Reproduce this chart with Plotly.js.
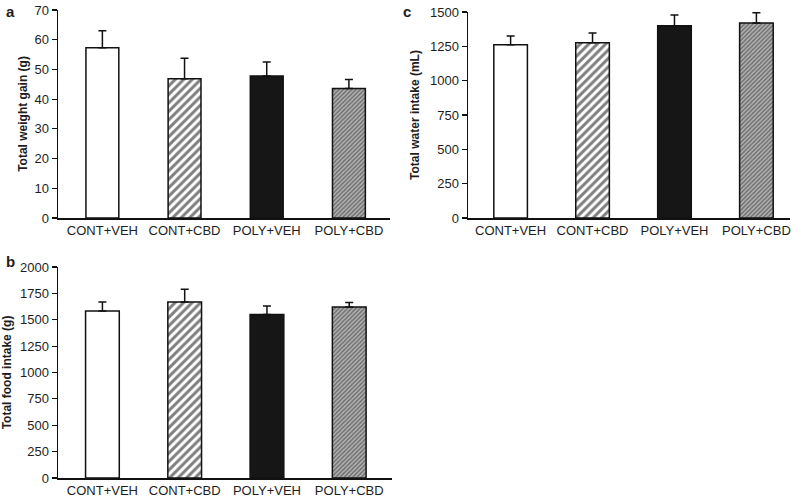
<!DOCTYPE html>
<html>
<head>
<meta charset="utf-8">
<script src="https://cdn.plot.ly/plotly-3.0.1.min.js"></script>
<style>html,body{margin:0;padding:0;background:#fff;}#chart{width:798px;height:503px;}</style>
</head>
<body>
<div id="chart"></div>
<script>
const categories = ['CONT+VEH', 'CONT+CBD', 'POLY+VEH', 'POLY+CBD'];
const weightGain = [57.3, 46.9, 47.8, 43.6];
const weightGainErr = [5.7, 6.9, 4.7, 3.0];
const foodIntake = [1584, 1669, 1550, 1622];
const foodIntakeErr = [85, 120, 81, 41];
const waterIntake = [1262, 1277, 1400, 1420];
const waterIntakeErr = [63, 70, 78, 75];

const weightTicks = [0, 10, 20, 30, 40, 50, 60, 70];
const foodTicks = [0, 250, 500, 750, 1000, 1250, 1500, 1750, 2000];
const waterTicks = [0, 250, 500, 750, 1000, 1250, 1500];

const FONT = 'Liberation Sans, Arial, sans-serif';
const TXT = '#1e1e1e';

// fill style per group
const groupStyles = [
  {color: '#ffffff', pattern: {shape: ''}},
  {color: '#ffffff', pattern: {shape: '/', size: 6, solidity: 0.5, fgcolor: '#000000', bgcolor: '#ffffff', fillmode: 'overlay'}},
  {color: '#161616', pattern: {shape: ''}},
  {color: '#b4b4b4', pattern: {shape: '/', size: 3, solidity: 0.5, fgcolor: '#2a2a2a', bgcolor: '#b4b4b4', fillmode: 'overlay'}}
];

function barTraces(values, errs, xa, ya, width) {
  return categories.map((cat, i) => ({
    type: 'bar',
    x: [cat],
    y: [values[i]],
    xaxis: xa,
    yaxis: ya,
    width: width,
    showlegend: false,
    marker: {
      color: groupStyles[i].color,
      line: {color: '#111', width: 1.5},
      pattern: groupStyles[i].pattern
    },
    error_y: {
      type: 'data',
      symmetric: false,
      array: [errs[i]],
      arrayminus: [0],
      color: '#111',
      thickness: 1.5,
      width: 4
    }
  }));
}

const data = [].concat(
  barTraces(weightGain, weightGainErr, 'x', 'y', 0.40),
  barTraces(foodIntake, foodIntakeErr, 'x2', 'y2', 0.41),
  barTraces(waterIntake, waterIntakeErr, 'x3', 'y3', 0.41)
);

function xAxis(domain, range, anchor) {
  return {
    domain: domain, range: range, anchor: anchor,
    type: 'category', categoryorder: 'array', categoryarray: categories,
    showline: true, linecolor: '#111', linewidth: 1.5,
    ticks: '', showgrid: false, zeroline: false,
    tickfont: {family: FONT, size: 13, color: TXT},
    fixedrange: true
  };
}
function yAxis(domain, range, ticks, anchor, title, standoff) {
  return {
    domain: domain, range: range, anchor: anchor,
    tickvals: ticks, ticktext: ticks.map(String),
    showline: true, linecolor: '#111', linewidth: 1.5,
    ticks: 'outside', ticklen: 5, tickcolor: '#111', tickwidth: 1.2,
    showgrid: false, zeroline: false,
    tickfont: {family: FONT, size: 13, color: TXT},
    title: {text: title, font: {family: FONT, size: 12, color: TXT, weight: 'bold'}, standoff: standoff},
    fixedrange: true
  };
}

const layout = {
  width: 798, height: 503,
  margin: {l: 0, r: 0, t: 0, b: 0},
  paper_bgcolor: '#fff', plot_bgcolor: '#fff',
  barmode: 'overlay',
  xaxis: xAxis([58/798, 390/798], [-0.54, 3.5], 'y'),
  yaxis: yAxis([1 - 218/503, 1 - 10/503], [0, 70], weightTicks, 'x', 'Total weight gain (g)', 4),
  xaxis2: xAxis([58/798, 392/798], [-0.54, 3.52], 'y2'),
  yaxis2: yAxis([1 - 478/503, 1 - 267/503], [0, 2000], foodTicks, 'x2', 'Total food intake (g)', 6),
  xaxis3: xAxis([468/798, 790/798], [-0.52, 3.41], 'y3'),
  yaxis3: yAxis([1 - 218/503, 1 - 12/503], [0, 1500], waterTicks, 'x3', 'Total water intake (mL)', 8),
  annotations: [
    {text: 'a', x: 4/798, y: 1 - 1/503, xref: 'paper', yref: 'paper', xanchor: 'left', yanchor: 'top', showarrow: false, font: {family: FONT, size: 15, color: TXT, weight: 'bold'}},
    {text: 'b', x: 4/798, y: 1 - 251/503, xref: 'paper', yref: 'paper', xanchor: 'left', yanchor: 'top', showarrow: false, font: {family: FONT, size: 15, color: TXT, weight: 'bold'}},
    {text: 'c', x: 401/798, y: 1 - 1/503, xref: 'paper', yref: 'paper', xanchor: 'left', yanchor: 'top', showarrow: false, font: {family: FONT, size: 15, color: TXT, weight: 'bold'}}
  ]
};

Plotly.newPlot('chart', data, layout, {staticPlot: true, displayModeBar: false});
</script>
</body>
</html>
